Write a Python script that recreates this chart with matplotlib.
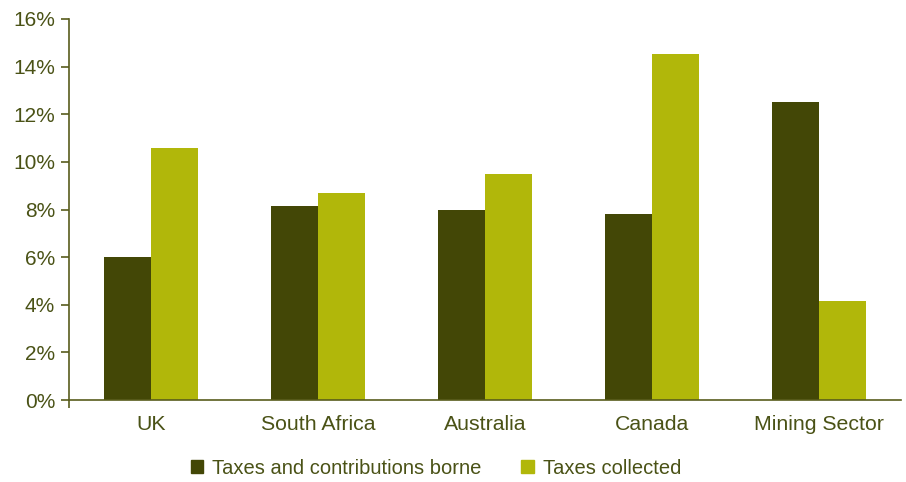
import matplotlib.pyplot as plt
import numpy as np
from matplotlib.patches import Patch
from matplotlib.ticker import FuncFormatter

# data
categories = ["UK", "South Africa", "Australia", "Canada", "Mining Sector"]
borne = [6.0, 8.15, 8.0, 7.8, 12.5]
collected = [10.6, 8.7, 9.5, 14.55, 4.15]
series_names = ["Taxes and contributions borne", "Taxes collected"]

dark = "#434706"
light = "#b1b70a"
text_col = "#4a5216"
axis_col = "#595c1c"

plt.rcParams["font.family"] = ["Liberation Sans", "DejaVu Sans"]
plt.rcParams["font.size"] = 15

fig = plt.figure(figsize=(9.06, 4.82), dpi=100)
ax = fig.add_axes([69 / 906, 1 - 400 / 482, (901 - 69) / 906, (400 - 19) / 482])

x = np.arange(len(categories))
w = 0.28
ax.bar(x - w / 2, borne, width=w, color=dark, label=series_names[0])
ax.bar(x + w / 2, collected, width=w, color=light, label=series_names[1])

ax.set_xlim(-0.49, len(categories) - 0.51)
ax.set_ylim(0, 16)
ax.set_yticks(np.arange(0, 17, 2))
ax.yaxis.set_major_formatter(FuncFormatter(lambda v, p: f"{v:.0f}%"))
ax.set_xticks(x)
ax.set_xticklabels(categories)
ax.tick_params(axis="x", length=0, pad=11, colors=text_col, labelsize=15.3)
ax.tick_params(axis="y", length=6, width=1.2, color=axis_col, colors=text_col,
               labelsize=15, pad=4)

# small crossing of the y axis below the x axis
ax.set_xticks([-0.49], minor=True)
ax.tick_params(axis="x", which="minor", length=6, width=1.2, color=axis_col)

for s in ["top", "right"]:
    ax.spines[s].set_visible(False)
for s in ["left", "bottom"]:
    ax.spines[s].set_color(axis_col)
    ax.spines[s].set_linewidth(1.2)

handles = [Patch(color=dark), Patch(color=light)]
fig.legend(handles, series_names, loc="center", ncol=2,
           bbox_to_anchor=(0.481, 1 - 468 / 482), frameon=False,
           handlelength=0.6, handleheight=0.6, handletextpad=0.45,
           columnspacing=2.0, labelcolor=text_col, fontsize=14.5)

fig.savefig("out.png", dpi=100)
